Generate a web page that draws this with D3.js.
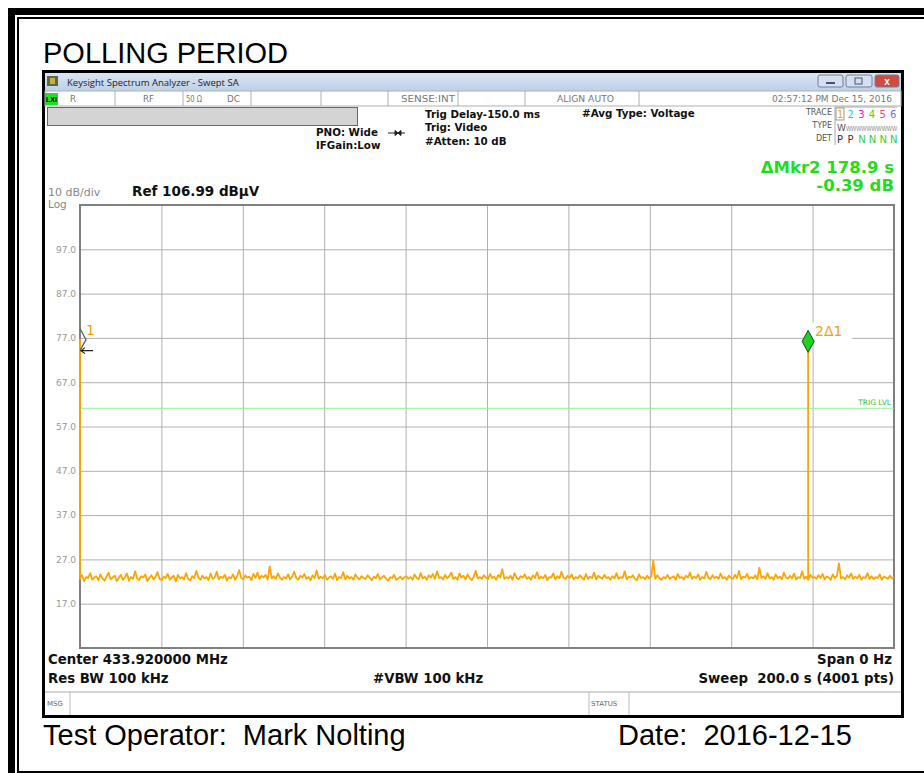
<!DOCTYPE html>
<html>
<head>
<meta charset="utf-8">
<script src="https://cdn.jsdelivr.net/npm/d3@7"></script>
<style>
body { margin: 0; background: #fff; }
svg text { font-family: "Liberation Sans", Arial, sans-serif; white-space: pre; }
svg .dj { font-family: "DejaVu Sans", sans-serif; }
</style>
</head>
<body>
<div class="graphic"></div>
<script>
var refLevel = 106.99;
var dbPerDiv = 10;
var sweepTime = 200;
var trigLevel = 61.1;

var markerTimes = [0, 178.9];
var markerDb = [76.6, 76.2];
var markerLabels = ["1", "2\u03941"];

// noise floor, evenly spread over the sweep
var noiseDb = [
  22.6,23.4,22.1,23.0,22.8,23.9,22.4,22.9,23.2,22.3,23.6,22.7,22.2,23.1,24.0,22.5,22.9,23.3,22.1,22.8,
  23.5,22.4,22.9,23.8,22.2,23.0,22.6,24.3,22.7,22.3,23.2,22.9,23.6,22.1,22.8,23.4,22.5,23.0,24.1,22.6,
  22.3,23.1,22.8,23.7,22.4,22.9,23.3,22.0,23.5,22.7,23.0,22.5,23.9,22.6,22.2,23.2,22.8,24.4,22.9,22.4,
  23.3,22.7,23.0,22.3,23.8,22.6,22.9,24.2,22.5,23.1,22.8,23.5,22.2,23.0,22.7,23.6,22.4,23.2,24.6,22.8,
  22.5,23.4,22.9,23.1,22.3,23.7,22.8,24.0,22.6,23.3,22.9,23.5,22.4,25.4,22.7,23.2,22.6,23.8,22.9,22.4,
  23.0,22.7,23.6,22.5,23.1,24.2,22.8,22.4,23.3,22.9,23.7,22.6,23.0,22.3,23.4,22.8,24.5,22.6,23.1,22.7,
  23.5,22.4,22.9,23.2,22.6,23.8,22.3,23.0,22.8,24.1,22.5,23.3,22.7,23.0,22.4,23.6,22.9,22.5,23.2,22.8,
  22.6,23.4,22.9,22.3,23.1,22.7,23.7,22.5,22.9,23.3,22.6,22.2,23.0,22.8,23.5,22.4,22.7,23.1,22.5,22.9,
  23.2,22.6,23.0,22.4,23.6,22.8,22.5,23.9,22.7,23.1,22.4,23.4,22.9,23.7,22.6,24.3,22.8,23.0,22.5,23.5,
  22.7,23.2,24.0,22.6,23.0,22.4,23.8,22.9,23.3,22.5,23.6,22.8,22.3,23.1,24.4,22.7,23.0,22.6,23.4,22.9,
  22.5,23.7,22.8,23.1,22.4,23.5,22.9,24.8,22.6,23.0,22.7,23.3,22.4,23.9,22.8,22.5,23.2,22.9,23.6,22.6,
  23.0,22.4,23.4,22.8,24.1,22.6,23.1,22.7,23.5,22.3,23.0,22.9,23.8,22.5,23.2,22.7,24.2,22.9,22.6,23.3,
  22.8,23.6,22.5,23.0,22.7,23.4,22.9,22.4,23.7,22.6,23.1,22.8,24.0,22.5,23.3,22.9,22.6,23.5,22.8,23.0,
  22.4,23.2,22.7,23.9,22.6,23.0,22.8,24.3,22.5,23.1,22.9,23.4,22.6,22.3,23.6,22.8,23.0,22.5,23.3,22.7,
  23.1,26.7,22.6,23.4,22.8,22.4,23.0,22.7,23.5,22.6,22.9,23.2,22.4,23.7,22.8,23.0,22.5,23.3,22.9,24.0,
  22.6,23.1,22.8,23.6,22.4,23.0,22.7,24.2,22.9,22.5,23.4,22.8,23.1,22.6,23.8,22.7,23.0,22.4,23.3,22.9,
  22.6,23.5,22.8,24.4,22.5,23.1,22.9,23.7,22.6,23.0,22.7,23.4,22.5,25.1,22.8,23.2,22.6,23.9,22.7,23.0,
  22.4,23.6,22.8,23.1,22.5,24.0,22.9,22.6,23.3,22.7,23.8,22.5,23.0,22.8,24.3,22.6,23.1,22.4,23.5,22.9,
  23.0,22.6,23.4,22.8,23.7,22.5,23.1,22.9,22.4,23.6,22.8,23.2,26.1,22.7,23.0,22.5,23.4,22.9,23.8,22.6,
  23.1,22.7,23.5,22.4,23.0,22.8,23.9,22.6,23.2,22.5,23.0,22.8,23.6,22.4,23.1,22.9,22.6,23.3,22.7,23.0
];

var statusDividers = [115, 183, 251, 321, 388, 458, 525, 639];
var statusTexts = [
  {x: 70, t: "R", w: 6}, {x: 143, t: "RF", w: 11}, {x: 186, t: "50 \u03a9", w: 16}, {x: 227, t: "DC", w: 13},
  {x: 401, t: "SENSE:INT", w: 54}, {x: 557, t: "ALIGN AUTO", w: 57}, {x: 772, t: "02:57:12 PM Dec 15, 2016", w: 120}
];
var traceNums = ["1", "2", "3", "4", "5", "6"];
var traceColors = ["#f0a020", "#20c8e8", "#e820e0", "#40d040", "#ff3c8c", "#8060ff"];
var detLetters = ["P", "P", "N", "N", "N", "N"];

var W = 924, H = 773;
var svg = d3.select(".graphic").append("svg").attr("width", W).attr("height", H);

// page frame
svg.append("rect").attr("x", 11.5).attr("y", 11.5).attr("width", 940).attr("height", 790)
  .attr("fill", "none").attr("stroke", "#000").attr("stroke-width", 7);
svg.append("rect").attr("x", 18).attr("y", 18).attr("width", 920).attr("height", 754)
  .attr("fill", "none").attr("stroke", "#000").attr("stroke-width", 2);

svg.append("text").attr("x", 43).attr("y", 63).attr("font-size", 29).attr("fill", "#000").text("POLLING PERIOD");
svg.append("text").attr("x", 43).attr("y", 745).attr("font-size", 29).attr("fill", "#000")
  .text("Test Operator:  Mark Nolting");
svg.append("text").attr("x", 618).attr("y", 745).attr("font-size", 29).attr("fill", "#000")
  .text("Date:  2016-12-15");

// analyzer window
var defs = svg.append("defs");
var grad = defs.append("linearGradient").attr("id", "tbar").attr("x1", 0).attr("y1", 0).attr("x2", 0).attr("y2", 1);
grad.append("stop").attr("offset", "0%").attr("stop-color", "#d9e5f3");
grad.append("stop").attr("offset", "100%").attr("stop-color", "#bdd0e8");

svg.append("rect").attr("x", 43.5).attr("y", 71.5).attr("width", 859).attr("height", 645)
  .attr("fill", "#fff").attr("stroke", "#000").attr("stroke-width", 3);
svg.append("rect").attr("x", 45).attr("y", 73).attr("width", 856).attr("height", 18).attr("fill", "url(#tbar)");
svg.append("rect").attr("x", 47).attr("y", 76).attr("width", 11).attr("height", 10).attr("fill", "#5a6a3a");
svg.append("rect").attr("x", 50).attr("y", 78).attr("width", 5).attr("height", 6).attr("fill", "#c8b040");
svg.append("text").attr("x", 67).attr("y", 86).attr("font-size", 9.5).attr("fill", "#222")
  .style("font-family", "'Open Sans', sans-serif").text("Keysight Spectrum Analyzer - Swept SA");

var btns = [{x: 818, w: 25, f: "#d4e0ef"}, {x: 846, w: 26, f: "#d4e0ef"}, {x: 875, w: 24, f: "#cf4b40"}];
svg.selectAll(".btn").data(btns).enter().append("rect").attr("class", "btn")
  .attr("x", d => d.x).attr("y", 75).attr("width", d => d.w).attr("height", 12).attr("rx", 2)
  .attr("fill", d => d.f).attr("stroke", "#6f819c");
svg.append("rect").attr("x", 826).attr("y", 82).attr("width", 9).attr("height", 2).attr("fill", "#44546e");
svg.append("rect").attr("x", 855).attr("y", 78).attr("width", 7).attr("height", 6).attr("fill", "none").attr("stroke", "#44546e");
svg.append("text").attr("x", 887).attr("y", 85).attr("text-anchor", "middle").attr("font-size", 10)
  .attr("font-weight", "bold").attr("fill", "#fff").text("x");

// status row
svg.append("rect").attr("x", 45).attr("y", 91).attr("width", 856).attr("height", 15)
  .attr("fill", "#fff").attr("stroke", "#b0b0b0");
svg.selectAll(".sdiv").data(statusDividers).enter().append("line").attr("class", "sdiv")
  .attr("x1", d => d).attr("x2", d => d).attr("y1", 91).attr("y2", 106).attr("stroke", "#b0b0b0");
svg.append("rect").attr("x", 45).attr("y", 93).attr("width", 13).attr("height", 12).attr("fill", "#20e020");
svg.append("text").attr("x", 46).attr("y", 102).attr("font-size", 8).attr("font-weight", "bold")
  .attr("textLength", 11).attr("lengthAdjust", "spacingAndGlyphs").text("LXI");
svg.selectAll(".stxt").data(statusTexts).enter().append("text").attr("class", "stxt dj")
  .attr("x", d => d.x).attr("y", 102).attr("font-size", 8.5).attr("fill", "#777")
  .attr("textLength", d => d.w).attr("lengthAdjust", "spacingAndGlyphs").text(d => d.t);

svg.append("rect").attr("x", 47.5).attr("y", 107.5).attr("width", 310).attr("height", 18)
  .attr("fill", "#d4d4d4").attr("stroke", "#666");

var info = svg.append("g").attr("font-size", 10.3).attr("font-weight", "bold").attr("fill", "#111");
info.append("text").attr("class", "dj").attr("x", 316).attr("y", 136).text("PNO: Wide");
info.append("text").attr("class", "dj").attr("x", 316).attr("y", 149).text("IFGain:Low");
info.append("text").attr("class", "dj").attr("x", 425).attr("y", 118).text("Trig Delay-150.0 ms");
info.append("text").attr("class", "dj").attr("x", 425).attr("y", 131).text("Trig: Video");
info.append("text").attr("class", "dj").attr("x", 425).attr("y", 145).text("#Atten: 10 dB");
info.append("text").attr("class", "dj").attr("x", 582).attr("y", 117).text("#Avg Type: Voltage");
svg.append("path").attr("d", "M388,133H405M395,130.5L398,133L395,135.5ZM401,130.5L398,133L401,135.5Z")
  .attr("stroke", "#222").attr("fill", "#222").attr("stroke-width", 1);

// trace box
var tb = svg.append("g");
tb.selectAll(".tlab").data(["TRACE", "TYPE", "DET"]).enter().append("text").attr("class", "tlab dj")
  .attr("x", 832).attr("y", (d, i) => 115 + i * 13).attr("text-anchor", "end")
  .attr("font-size", 8).attr("fill", "#555").text(d => d);
tb.append("path").attr("d", "M835,145V107H897").attr("fill", "none").attr("stroke", "#aaa");
tb.append("rect").attr("x", 836).attr("y", 108).attr("width", 8).attr("height", 12).attr("fill", "none").attr("stroke", "#999");
tb.selectAll(".tnum").data(traceNums).enter().append("text").attr("class", "tnum dj")
  .attr("x", (d, i) => 837 + i * 10.6).attr("y", 118).attr("font-size", 10).attr("fill", (d, i) => traceColors[i]).text(d => d);
tb.append("text").attr("class", "dj").attr("x", 837).attr("y", 131).attr("font-size", 9).attr("fill", "#555").text("W");
tb.append("text").attr("x", 846).attr("y", 131).attr("font-size", 8).attr("fill", "#888")
  .attr("textLength", 51).attr("lengthAdjust", "spacingAndGlyphs").text("WWWWWWWWWW");
tb.selectAll(".tdet").data(detLetters).enter().append("text").attr("class", "tdet dj")
  .attr("x", (d, i) => 837 + i * 10.6).attr("y", 143).attr("font-size", 10)
  .attr("fill", d => d === "P" ? "#333" : "#30d030").text(d => d);

svg.append("text").attr("class", "dj").attr("x", 894).attr("y", 173).attr("text-anchor", "end").attr("font-size", 16.5)
  .attr("font-weight", "bold").attr("fill", "#20dd20").text("\u0394Mkr2 178.9 s");
svg.append("text").attr("class", "dj").attr("x", 894).attr("y", 191).attr("text-anchor", "end").attr("font-size", 16.5)
  .attr("font-weight", "bold").attr("fill", "#20dd20").text("-0.39 dB");

svg.append("text").attr("class", "dj").attr("x", 48).attr("y", 195.5).attr("font-size", 11).attr("fill", "#888").text("10 dB/div");
svg.append("text").attr("class", "dj").attr("x", 48).attr("y", 208).attr("font-size", 10.5).attr("fill", "#888").text("Log");
svg.append("text").attr("class", "dj").attr("x", 132).attr("y", 196).attr("font-size", 13.5).attr("font-weight", "bold")
  .attr("fill", "#111").text("Ref 106.99 dB\u03bcV");

// plot
var pLeft = 80, pRight = 894, pTop = 205, pBottom = 648;
var x = d3.scaleLinear().domain([0, sweepTime]).range([pLeft, pRight]);
var y = d3.scaleLinear().domain([refLevel - 10 * dbPerDiv, refLevel]).range([pBottom, pTop]);
var yTicks = d3.range(1, 10).map(i => refLevel - i * dbPerDiv);
var xTicks = d3.range(1, 10).map(i => i * sweepTime / 10);

svg.append("g").attr("transform", "translate(0," + pBottom + ")")
  .call(d3.axisBottom(x).tickValues(xTicks).tickSize(-(pBottom - pTop)).tickFormat(""))
  .call(g => g.select(".domain").remove())
  .call(g => g.selectAll("line").attr("stroke", "#b0b0b0"));
svg.append("g").attr("transform", "translate(" + pLeft + ",0)")
  .call(d3.axisLeft(y).tickValues(yTicks).tickSize(-(pRight - pLeft)).tickPadding(4).tickFormat(d3.format(".1f")))
  .call(g => g.select(".domain").remove())
  .call(g => g.selectAll("line").attr("stroke", "#b0b0b0"))
  .call(g => g.selectAll("text").attr("font-size", 9).attr("fill", "#999")
    .style("font-family", "'DejaVu Sans', sans-serif"));

svg.append("rect").attr("x", pLeft).attr("y", pTop).attr("width", pRight - pLeft).attr("height", pBottom - pTop)
  .attr("fill", "none").attr("stroke", "#808080").attr("stroke-width", 2);

svg.append("line").attr("x1", pLeft).attr("x2", pRight).attr("y1", y(trigLevel)).attr("y2", y(trigLevel))
  .attr("stroke", "#9aee9a").attr("stroke-width", 1);
svg.append("text").attr("class", "dj").attr("x", pRight - 3).attr("y", y(trigLevel) - 3).attr("text-anchor", "end")
  .attr("font-size", 7.5).attr("fill", "#30c030").text("TRIG LVL");

// trace: noise floor plus a short burst at each marker time
var noisePts = noiseDb.map((v, i) => ({t: i * sweepTime / (noiseDb.length - 1), db: v}));
var burstPts = [];
markerTimes.forEach(function(t, i) {
  var k = Math.round(t / sweepTime * (noiseDb.length - 1));
  burstPts.push({t: t, db: noiseDb[k]}, {t: t, db: markerDb[i]}, {t: t, db: noiseDb[k]});
});
var trace = burstPts.concat(noisePts).sort((a, b) => a.t - b.t);

svg.append("path").datum(trace)
  .attr("d", d3.line().x(d => x(d.t)).y(d => y(d.db)))
  .attr("fill", "none").attr("stroke", "#ffa500").attr("stroke-width", 1.8).attr("stroke-linejoin", "round");

// markers
defs.append("clipPath").attr("id", "plotclip").append("rect")
  .attr("x", pLeft).attr("y", pTop).attr("width", pRight - pLeft).attr("height", pBottom - pTop);
var diamond = "M0,-11L6,0L0,11L-6,0Z";
var m1x = x(markerTimes[0]), m1y = y(markerDb[0]);

svg.append("g").attr("clip-path", "url(#plotclip)")
  .append("path").attr("d", diamond)
  .attr("transform", "translate(" + m1x + "," + m1y + ")")
  .attr("fill", "none").attr("stroke", "#666").attr("stroke-width", 1.4);
svg.append("path")
  .attr("d", "M" + (m1x + 13) + "," + (m1y + 11) + "H" + (m1x + 1) +
    "M" + (m1x + 5) + "," + (m1y + 8) + "L" + (m1x + 1) + "," + (m1y + 11) + "L" + (m1x + 5) + "," + (m1y + 14))
  .attr("fill", "none").attr("stroke", "#222").attr("stroke-width", 1.2);
svg.append("text").attr("class", "dj").attr("x", m1x + 6).attr("y", m1y - 5)
  .attr("font-size", 14).attr("fill", "#f5a010").text(markerLabels[0]);

var m2x = x(markerTimes[1]), m2y = y(markerDb[1]);
svg.append("rect").attr("x", m2x + 4).attr("y", m2y - 19).attr("width", 40).attr("height", 20).attr("fill", "#fff");
svg.append("path").attr("d", diamond)
  .attr("transform", "translate(" + m2x + "," + m2y + ")")
  .attr("fill", "#22d022").attr("stroke", "#1a4a1a").attr("stroke-width", 1);
svg.append("text").attr("class", "dj").attr("x", m2x + 7).attr("y", m2y - 5)
  .attr("font-size", 14).attr("fill", "#f5a010").text(markerLabels[1]);

// bottom annotations
var ann = svg.append("g").attr("font-size", 13.3).attr("font-weight", "bold").attr("fill", "#111");
ann.append("text").attr("class", "dj").attr("x", 48).attr("y", 664).text("Center 433.920000 MHz");
ann.append("text").attr("class", "dj").attr("x", 48).attr("y", 683).text("Res BW 100 kHz");
ann.append("text").attr("class", "dj").attr("x", 373).attr("y", 683).text("#VBW 100 kHz");
ann.append("text").attr("class", "dj").attr("x", 892).attr("y", 664).attr("text-anchor", "end").text("Span 0 Hz");
ann.append("text").attr("class", "dj").attr("x", 894).attr("y", 683).attr("text-anchor", "end").text("Sweep  200.0 s (4001 pts)");

svg.append("line").attr("x1", 45).attr("x2", 901).attr("y1", 692).attr("y2", 692).attr("stroke", "#aaa");
svg.selectAll(".bdiv").data([70, 589, 629]).enter().append("line").attr("class", "bdiv")
  .attr("x1", d => d).attr("x2", d => d).attr("y1", 692).attr("y2", 715).attr("stroke", "#bbb");
svg.append("text").attr("class", "dj").attr("x", 47).attr("y", 706).attr("font-size", 7).attr("fill", "#666").text("MSG");
svg.append("text").attr("class", "dj").attr("x", 591).attr("y", 706).attr("font-size", 7).attr("fill", "#666").text("STATUS");
</script>
</body>
</html>
